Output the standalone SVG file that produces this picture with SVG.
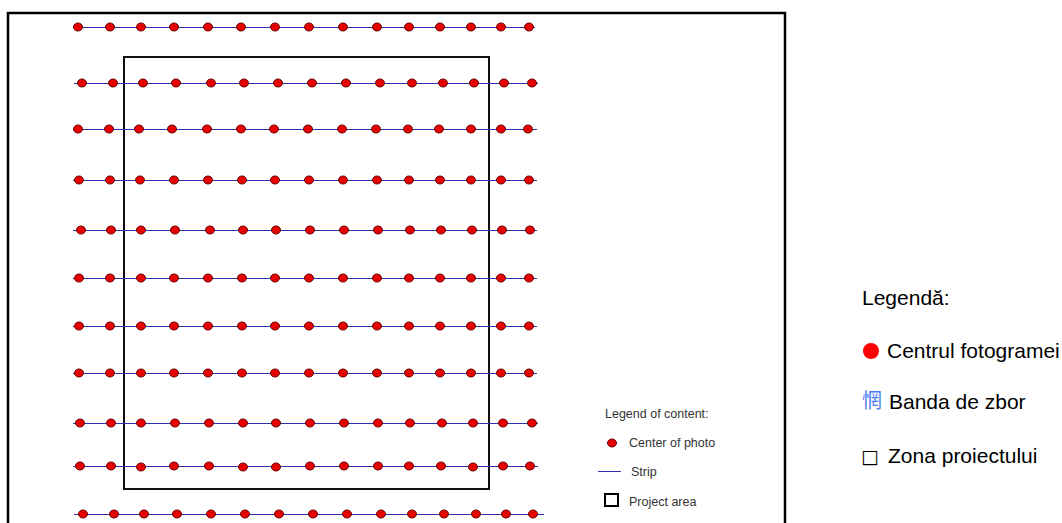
<svg xmlns="http://www.w3.org/2000/svg" xmlns:xlink="http://www.w3.org/1999/xlink" width="1062" height="523" viewBox="0 0 1062 523">
<style>
.strip{stroke:#2f2fb0;stroke-width:1;fill:none;shape-rendering:crispEdges}
.frame{fill:none;stroke:#000;stroke-width:2.5}
.area{fill:none;stroke:#111;stroke-width:2}
.lg{font-family:"Liberation Sans",Arial,sans-serif;font-size:12.5px;fill:#333}
.rg{font-family:"Liberation Sans",Arial,sans-serif;font-size:21px;fill:#000}
</style>
<defs>
<ellipse id="dot" cx="0" cy="0" rx="4.5" ry="4" fill="#e60000" stroke="#6a0000" stroke-width="1"/>
</defs>
<rect width="1062" height="523" fill="#fff"/>
<g id="frame"><path class="frame" d="M8,540 V13 H785 V540"/></g>
<g id="project-area"><rect class="area" x="124" y="57" width="365" height="432"/></g>
<g id="connectors">
<line class="strip" x1="73" y1="27" x2="535" y2="27"/>
<line class="strip" x1="74" y1="83" x2="538" y2="83"/>
<line class="strip" x1="73" y1="129" x2="537" y2="129"/>
<line class="strip" x1="73" y1="180" x2="537" y2="180"/>
<line class="strip" x1="73" y1="230" x2="537" y2="230"/>
<line class="strip" x1="73" y1="278" x2="537" y2="278"/>
<line class="strip" x1="73" y1="326" x2="537" y2="326"/>
<line class="strip" x1="73" y1="373" x2="537" y2="373"/>
<line class="strip" x1="73" y1="423" x2="538" y2="423"/>
<line class="strip" x1="73" y1="466" x2="538" y2="466"/>
<line class="strip" x1="74" y1="514" x2="544" y2="514"/>
</g>
<g id="row1"><use xlink:href="#dot" x="78" y="27"/><use xlink:href="#dot" x="110" y="27"/><use xlink:href="#dot" x="141" y="27"/><use xlink:href="#dot" x="174" y="27"/><use xlink:href="#dot" x="208" y="27"/><use xlink:href="#dot" x="241" y="27"/><use xlink:href="#dot" x="275" y="27"/><use xlink:href="#dot" x="309" y="27"/><use xlink:href="#dot" x="343" y="27"/><use xlink:href="#dot" x="377" y="27"/><use xlink:href="#dot" x="409" y="27"/><use xlink:href="#dot" x="440" y="27"/><use xlink:href="#dot" x="471" y="27"/><use xlink:href="#dot" x="501" y="27"/><use xlink:href="#dot" x="529" y="27"/></g>
<g id="row2"><use xlink:href="#dot" x="82" y="83"/><use xlink:href="#dot" x="113" y="83"/><use xlink:href="#dot" x="143" y="83"/><use xlink:href="#dot" x="176" y="83"/><use xlink:href="#dot" x="211" y="83"/><use xlink:href="#dot" x="244" y="83"/><use xlink:href="#dot" x="278" y="83"/><use xlink:href="#dot" x="312" y="83"/><use xlink:href="#dot" x="346" y="83"/><use xlink:href="#dot" x="380" y="83"/><use xlink:href="#dot" x="412" y="83"/><use xlink:href="#dot" x="443" y="83"/><use xlink:href="#dot" x="474" y="83"/><use xlink:href="#dot" x="504" y="83"/><use xlink:href="#dot" x="532" y="83"/></g>
<g id="row3"><use xlink:href="#dot" x="78" y="129"/><use xlink:href="#dot" x="109" y="129"/><use xlink:href="#dot" x="139" y="129"/><use xlink:href="#dot" x="172" y="129"/><use xlink:href="#dot" x="207" y="129"/><use xlink:href="#dot" x="241" y="129"/><use xlink:href="#dot" x="274" y="129"/><use xlink:href="#dot" x="308" y="129"/><use xlink:href="#dot" x="342" y="129"/><use xlink:href="#dot" x="376" y="129"/><use xlink:href="#dot" x="408" y="129"/><use xlink:href="#dot" x="439" y="129"/><use xlink:href="#dot" x="471" y="129"/><use xlink:href="#dot" x="501" y="129"/><use xlink:href="#dot" x="528" y="129"/></g>
<g id="row4"><use xlink:href="#dot" x="79" y="180"/><use xlink:href="#dot" x="110" y="180"/><use xlink:href="#dot" x="140" y="180"/><use xlink:href="#dot" x="174" y="180"/><use xlink:href="#dot" x="208" y="180"/><use xlink:href="#dot" x="242" y="180"/><use xlink:href="#dot" x="275" y="180"/><use xlink:href="#dot" x="309" y="180"/><use xlink:href="#dot" x="343" y="180"/><use xlink:href="#dot" x="377" y="180"/><use xlink:href="#dot" x="409" y="180"/><use xlink:href="#dot" x="440" y="180"/><use xlink:href="#dot" x="471" y="180"/><use xlink:href="#dot" x="501" y="180"/><use xlink:href="#dot" x="529" y="180"/></g>
<g id="row5"><use xlink:href="#dot" x="81" y="230"/><use xlink:href="#dot" x="111" y="230"/><use xlink:href="#dot" x="141" y="230"/><use xlink:href="#dot" x="175" y="230"/><use xlink:href="#dot" x="210" y="230"/><use xlink:href="#dot" x="243" y="230"/><use xlink:href="#dot" x="276" y="230"/><use xlink:href="#dot" x="310" y="230"/><use xlink:href="#dot" x="344" y="230"/><use xlink:href="#dot" x="378" y="230"/><use xlink:href="#dot" x="410" y="230"/><use xlink:href="#dot" x="441" y="230"/><use xlink:href="#dot" x="472" y="230"/><use xlink:href="#dot" x="502" y="230"/><use xlink:href="#dot" x="530" y="230"/></g>
<g id="row6"><use xlink:href="#dot" x="79" y="278"/><use xlink:href="#dot" x="110" y="278"/><use xlink:href="#dot" x="141" y="278"/><use xlink:href="#dot" x="174" y="278"/><use xlink:href="#dot" x="208" y="278"/><use xlink:href="#dot" x="242" y="278"/><use xlink:href="#dot" x="275" y="278"/><use xlink:href="#dot" x="309" y="278"/><use xlink:href="#dot" x="343" y="278"/><use xlink:href="#dot" x="377" y="278"/><use xlink:href="#dot" x="409" y="278"/><use xlink:href="#dot" x="440" y="278"/><use xlink:href="#dot" x="471" y="278"/><use xlink:href="#dot" x="501" y="278"/><use xlink:href="#dot" x="529" y="278"/></g>
<g id="row7"><use xlink:href="#dot" x="79" y="326"/><use xlink:href="#dot" x="110" y="326"/><use xlink:href="#dot" x="141" y="326"/><use xlink:href="#dot" x="174" y="326"/><use xlink:href="#dot" x="208" y="326"/><use xlink:href="#dot" x="242" y="326"/><use xlink:href="#dot" x="275" y="326"/><use xlink:href="#dot" x="309" y="326"/><use xlink:href="#dot" x="343" y="326"/><use xlink:href="#dot" x="377" y="326"/><use xlink:href="#dot" x="409" y="326"/><use xlink:href="#dot" x="440" y="326"/><use xlink:href="#dot" x="471" y="326"/><use xlink:href="#dot" x="501" y="326"/><use xlink:href="#dot" x="529" y="326"/></g>
<g id="row8"><use xlink:href="#dot" x="79" y="373"/><use xlink:href="#dot" x="110" y="373"/><use xlink:href="#dot" x="141" y="373"/><use xlink:href="#dot" x="174" y="373"/><use xlink:href="#dot" x="208" y="373"/><use xlink:href="#dot" x="242" y="373"/><use xlink:href="#dot" x="275" y="373"/><use xlink:href="#dot" x="309" y="373"/><use xlink:href="#dot" x="343" y="373"/><use xlink:href="#dot" x="377" y="373"/><use xlink:href="#dot" x="409" y="373"/><use xlink:href="#dot" x="440" y="373"/><use xlink:href="#dot" x="471" y="373"/><use xlink:href="#dot" x="501" y="373"/><use xlink:href="#dot" x="529" y="373"/></g>
<g id="row9"><use xlink:href="#dot" x="80" y="423"/><use xlink:href="#dot" x="111" y="423"/><use xlink:href="#dot" x="141" y="423"/><use xlink:href="#dot" x="175" y="423"/><use xlink:href="#dot" x="209" y="423"/><use xlink:href="#dot" x="243" y="423"/><use xlink:href="#dot" x="276" y="423"/><use xlink:href="#dot" x="310" y="423"/><use xlink:href="#dot" x="344" y="423"/><use xlink:href="#dot" x="378" y="423"/><use xlink:href="#dot" x="410" y="423"/><use xlink:href="#dot" x="442" y="423"/><use xlink:href="#dot" x="473" y="423"/><use xlink:href="#dot" x="503" y="423"/><use xlink:href="#dot" x="532" y="423"/></g>
<g id="row10"><use xlink:href="#dot" x="80" y="466"/><use xlink:href="#dot" x="111" y="466"/><use xlink:href="#dot" x="141" y="467"/><use xlink:href="#dot" x="174" y="466"/><use xlink:href="#dot" x="209" y="466"/><use xlink:href="#dot" x="243" y="467"/><use xlink:href="#dot" x="276" y="467"/><use xlink:href="#dot" x="310" y="466"/><use xlink:href="#dot" x="344" y="466"/><use xlink:href="#dot" x="378" y="466"/><use xlink:href="#dot" x="409" y="466"/><use xlink:href="#dot" x="441" y="466"/><use xlink:href="#dot" x="473" y="467"/><use xlink:href="#dot" x="503" y="466"/><use xlink:href="#dot" x="530" y="466"/></g>
<g id="row11"><use xlink:href="#dot" x="83" y="514"/><use xlink:href="#dot" x="114" y="514"/><use xlink:href="#dot" x="144" y="514"/><use xlink:href="#dot" x="177" y="514"/><use xlink:href="#dot" x="211" y="514"/><use xlink:href="#dot" x="245" y="514"/><use xlink:href="#dot" x="279" y="514"/><use xlink:href="#dot" x="313" y="514"/><use xlink:href="#dot" x="347" y="514"/><use xlink:href="#dot" x="381" y="514"/><use xlink:href="#dot" x="412" y="514"/><use xlink:href="#dot" x="444" y="514"/><use xlink:href="#dot" x="476" y="514"/><use xlink:href="#dot" x="506" y="514"/><use xlink:href="#dot" x="533" y="514"/></g>
<g id="legend-content">
<text class="lg" x="605" y="418">Legend of content:</text>
<use xlink:href="#dot" x="612" y="443"/>
<text class="lg" x="629" y="447">Center of photo</text>
<line class="strip" x1="598" y1="471" x2="621" y2="471"/>
<text class="lg" x="631" y="476">Strip</text>
<rect x="605" y="494" width="13" height="12" fill="none" stroke="#000" stroke-width="2"/>
<text class="lg" x="629" y="506">Project area</text>
</g>
<g id="legend-ro">
<text class="rg" x="862" y="305">Legendă:</text>
<circle cx="871" cy="351" r="8" fill="#ff0000"/>
<text class="rg" x="887" y="358">Centrul fotogramei</text>
<text x="862" y="408" font-family="'Noto Sans CJK SC','Noto Sans CJK JP',sans-serif" font-size="20px" fill="#4d7cf4">惘</text>
<text class="rg" x="889" y="409">Banda de zbor</text>
<text x="861" y="463" font-family="'DejaVu Sans',sans-serif" font-size="19px" fill="#000">□</text>
<text class="rg" x="888" y="463">Zona proiectului</text>
</g>
</svg>
